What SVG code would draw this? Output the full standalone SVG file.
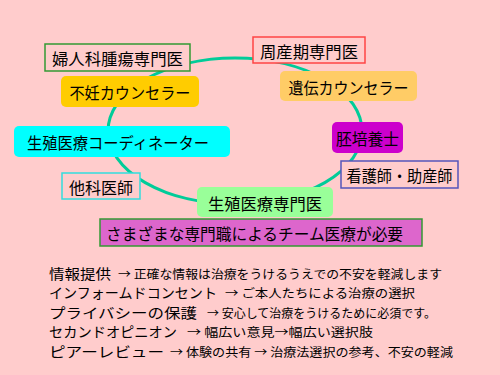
<svg xmlns="http://www.w3.org/2000/svg" width="500" height="375" viewBox="0 0 500 375">
<style>
text{font-family:"Noto Sans CJK JP","Noto Sans CJK SC",sans-serif;fill:#000;}
.n{font-size:16px;dominant-baseline:central;text-anchor:middle;}
.b{font-size:14px;}
.s{font-size:12px;}
</style>
<rect width="500" height="375" fill="#FFCCCC"/>
<g id="connectors">
<ellipse cx="235" cy="131" rx="127" ry="73" fill="none" stroke="#00CC99" stroke-width="3"/>
</g>
<g id="n1"><rect x="45" y="44" width="145" height="27" fill="#FFCCCC" stroke="#339933" stroke-width="1.5"/><text class="n" x="117.5" y="58" textLength="131" lengthAdjust="spacingAndGlyphs">婦人科腫瘍専門医</text></g>
<g id="n2"><rect x="61" y="76" width="138" height="31" rx="5" fill="#FFCC00"/><text class="n" x="130" y="92" textLength="121" lengthAdjust="spacingAndGlyphs">不妊カウンセラー</text></g>
<g id="n3"><rect x="253" y="37" width="112" height="26" fill="#FFCCCC" stroke="#FF4444" stroke-width="1.5"/><text class="n" x="309" y="50.5" textLength="98" lengthAdjust="spacingAndGlyphs">周産期専門医</text></g>
<g id="n4"><rect x="280" y="71" width="137" height="30" rx="5" fill="#FFCC66"/><text class="n" x="348.5" y="86.5" textLength="120" lengthAdjust="spacingAndGlyphs">遺伝カウンセラー</text></g>
<g id="n5"><rect x="14" y="126" width="216" height="31" rx="5" fill="#00FFFF"/><text class="n" x="118" y="142" textLength="182" lengthAdjust="spacingAndGlyphs">生殖医療コーディネーター</text></g>
<g id="n6"><rect x="332" y="122" width="71" height="31" rx="5" fill="#CC00CC"/><text class="n" x="367.5" y="138" textLength="63" lengthAdjust="spacingAndGlyphs">胚培養士</text></g>
<g id="n7"><rect x="341" y="161" width="117" height="27" fill="#FFCCCC" stroke="#5555BB" stroke-width="1.5"/><text class="n" x="399.5" y="175" textLength="106" lengthAdjust="spacingAndGlyphs">看護師・助産師</text></g>
<g id="n8"><rect x="62" y="173" width="78" height="26" fill="#FFCCCC" stroke="#33DDDD" stroke-width="1.5"/><text class="n" x="101" y="187" textLength="64" lengthAdjust="spacingAndGlyphs">他科医師</text></g>
<g id="n9"><rect x="197" y="187" width="136" height="30" rx="5" fill="#99FF99"/><text class="n" x="265" y="202.5" textLength="114" lengthAdjust="spacingAndGlyphs">生殖医療専門医</text></g>
<g id="n10"><rect x="100" y="219" width="322" height="27" fill="#DD66CC" stroke="#339933" stroke-width="1.5"/><text class="n" x="254.5" y="233" textLength="297" lengthAdjust="spacingAndGlyphs">さまざまな専門職によるチーム医療が必要</text></g>
<g id="notes">
<text x="49" y="279"><tspan class="b" x="49" y="278.5" textLength="62" lengthAdjust="spacingAndGlyphs">情報提供</tspan><tspan class="s" x="118" y="278.5" textLength="324" lengthAdjust="spacingAndGlyphs">→ 正確な情報は治療をうけるうえでの不安を軽減します</tspan><tspan class="b" x="49" y="298" textLength="168" lengthAdjust="spacingAndGlyphs">インフォームドコンセント</tspan><tspan class="s" x="225" y="298" textLength="190" lengthAdjust="spacingAndGlyphs">→ ご本人たちによる治療の選択</tspan><tspan class="b" x="49" y="317.5" textLength="148" lengthAdjust="spacingAndGlyphs">プライバシーの保護</tspan><tspan class="s" x="207" y="317.5" textLength="229" lengthAdjust="spacingAndGlyphs">→ 安心して治療をうけるために必須です。</tspan><tspan class="b" x="49" y="337" textLength="128" lengthAdjust="spacingAndGlyphs">セカンドオピニオン</tspan><tspan class="s" x="187" y="337" textLength="186" lengthAdjust="spacingAndGlyphs">→ 幅広い意見→幅広い選択肢</tspan><tspan class="b" x="49" y="356.5" textLength="115" lengthAdjust="spacingAndGlyphs">ピアーレビュー</tspan><tspan class="s" x="170" y="356.5" textLength="283" lengthAdjust="spacingAndGlyphs">→ 体験の共有 → 治療法選択の参考、不安の軽減</tspan></text>
</g>
</svg>
